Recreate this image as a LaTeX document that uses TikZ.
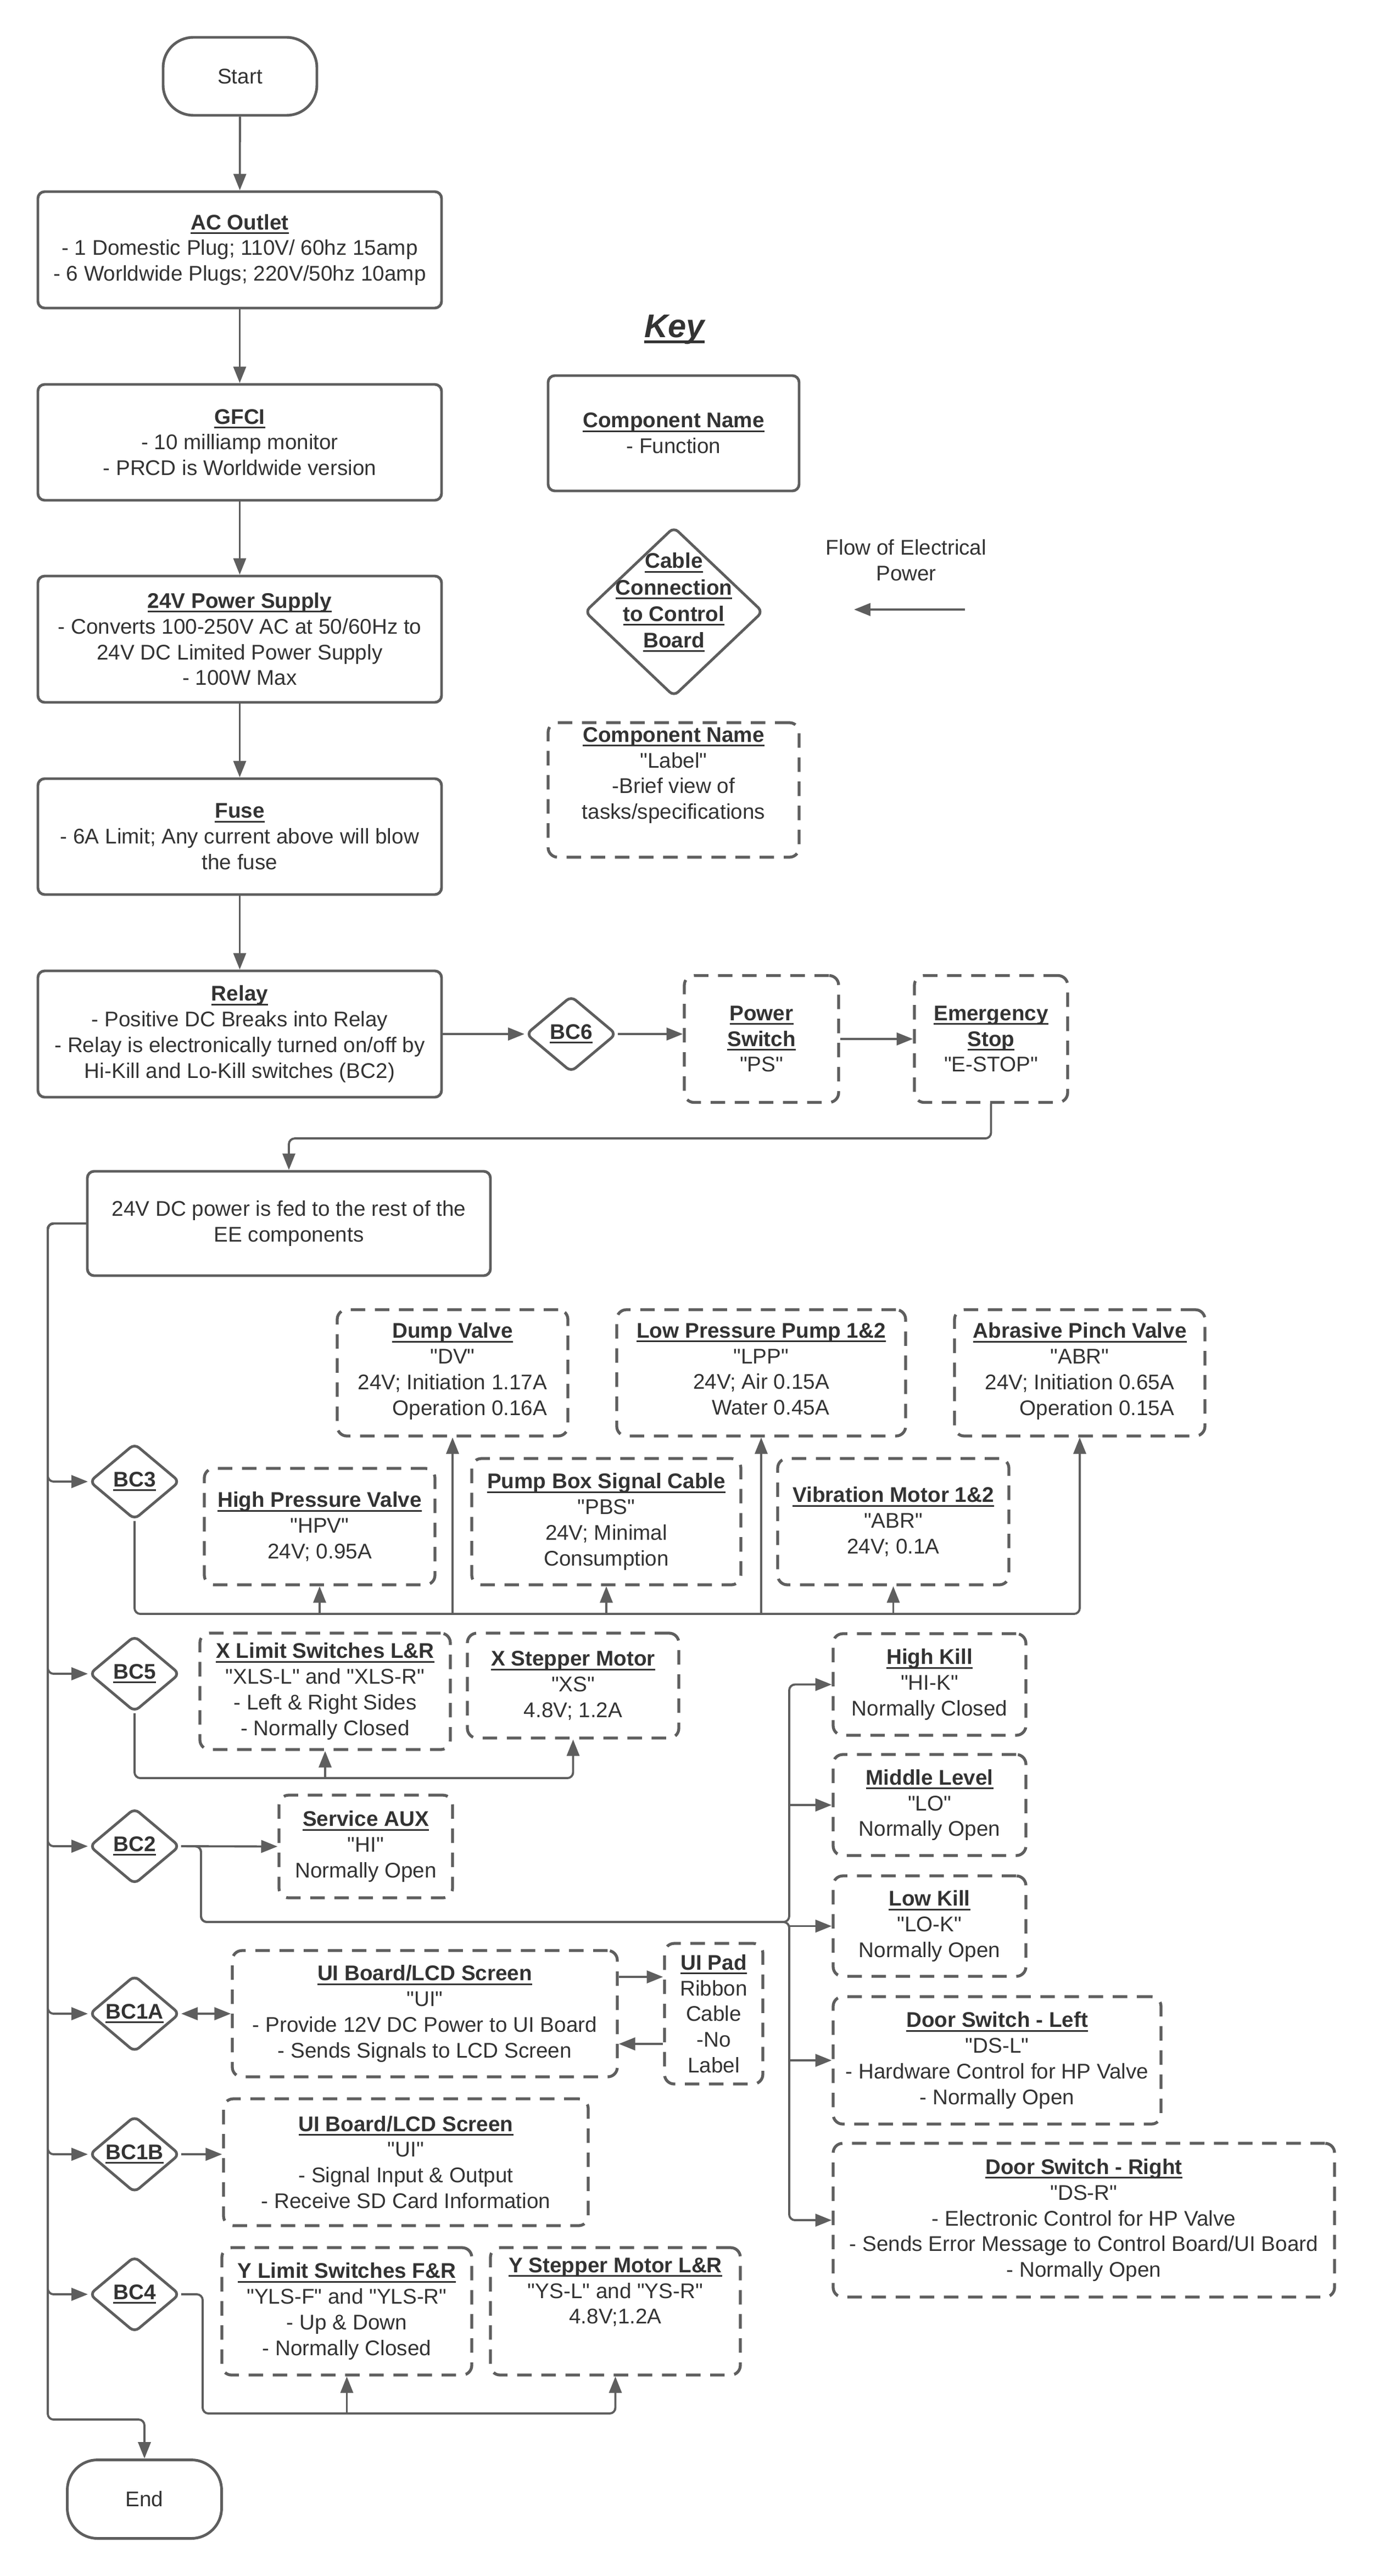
\documentclass[tikz,border=0pt]{standalone}
\usepackage{fontspec}
\setmainfont{Liberation Sans}[Ligatures=TeXOff]
\usetikzlibrary{shapes.geometric,arrows.meta,calc}
\definecolor{lc}{RGB}{94,94,94}
\definecolor{tc}{RGB}{51,51,51}
\newcommand\fsz{\fontsize{11}{13.3}\selectfont}
\newcommand\hdr[1]{\leavevmode\setbox0=\hbox{\bfseries #1}\rlap{\rule[-2.2pt]{\wd0}{0.85pt}}\box0}
\newcommand\rtabx[2]{\begin{tabular}[t]{@{}r@{}}#1\\#2\end{tabular}}
\begin{document}
\begin{tikzpicture}[
  every node/.style={text=tc, font=\fsz},
  sbox/.style={draw=lc, line width=1.4pt, rounded corners=3.5pt, inner sep=0pt, align=center},
  dbox/.style={sbox, dash pattern=on 7.5pt off 5pt, rounded corners=5pt, line width=1.5pt},
  term/.style={sbox, rounded corners=0.55cm},
  bcd/.style={draw=lc, line width=1.4pt, diamond, rounded corners=3pt, inner sep=0pt, minimum width=1.65cm, minimum height=1.39cm},
  sz/.style 2 args={minimum width=#1cm, minimum height=#2cm},
  conn/.style={draw=lc, line width=1.1pt, rounded corners=3pt},
  arr/.style={conn, -{Triangle[length=8.5pt,width=6.5pt]}},
  darr/.style={conn, {Triangle[length=8.5pt,width=6.5pt]}-{Triangle[length=8.5pt,width=6.5pt]}},
]
\fill[white] (0,0) rectangle (25,-46.91);
\useasboundingbox (0,0) rectangle (25,-46.91);

% ---- main column ----
\node[term, sz={2.80}{1.42}] (start) at (4.37,-1.39) {Start};
\node[sbox, sz={7.35}{2.12}] (ac) at (4.365,-4.55) {\hdr{AC Outlet}\\- 1 Domestic Plug; 110V/ 60hz 15amp\\- 6 Worldwide Plugs; 220V/50hz 10amp};
\node[sbox, sz={7.35}{2.11}] (gfci) at (4.365,-8.055) {\hdr{GFCI}\\- 10 milliamp monitor\\- PRCD is Worldwide version};
\node[sbox, sz={7.35}{2.30}] (ps24) at (4.365,-11.64) {\hdr{24V Power Supply}\\- Converts 100-250V AC at 50/60Hz to\\24V DC Limited Power Supply\\- 100W Max};
\node[sbox, sz={7.35}{2.11}] (fuse) at (4.365,-15.235) {\hdr{Fuse}\\- 6A Limit; Any current above will blow\\the fuse};
\node[sbox, sz={7.35}{2.30}] (relay) at (4.365,-18.83) {\hdr{Relay}\\- Positive DC Breaks into Relay\\- Relay is electronically turned on/off by\\Hi-Kill and Lo-Kill switches (BC2)};
\node[bcd] (bc6) at (10.40,-18.83) {\hdr{BC6}};
\node[dbox, sz={2.81}{2.31}] (pswitch) at (13.865,-18.92) {\hdr{Power}\\\hdr{Switch}\\"PS"};
\node[dbox, sz={2.79}{2.31}] (estop) at (18.045,-18.92) {\hdr{Emergency}\\\hdr{Stop}\\"E-STOP"};
\node[sbox, sz={7.34}{1.90}] (dc24) at (5.26,-22.28) {24V DC power is fed to the rest of the\\EE components};

% ---- key ----
\node[font=\fontsize{17}{20}\selectfont] (keytitle) at (12.28,-6.00) {\leavevmode\setbox0=\hbox{\bfseries\itshape Key}\rlap{\rule[-3pt]{\wd0}{1.3pt}}\box0};
\node[sbox, sz={4.57}{2.10}] (key1) at (12.265,-7.89) {\hdr{Component Name}\\- Function};
\node[draw=lc, line width=1.4pt, diamond, rounded corners=3pt, inner sep=0pt, minimum width=3.25cm, minimum height=3.09cm] (keyd) at (12.27,-11.14) {};
\node[align=center, font=\fontsize{11}{13.7}\selectfont] (keydt) at (12.27,-10.97) {\hdr{Cable}\\\hdr{Connection}\\\hdr{to Control}\\\hdr{Board}};
\node[align=center] (flow) at (16.50,-10.20) {Flow of Electrical\\Power};
\coordinate (fa) at (17.57,-11.10);
\coordinate (fb) at (15.55,-11.10);
\draw[arr] (fa) -- (fb);
\node[dbox, sz={4.57}{2.45}] (key2) at (12.265,-14.385) {\hdr{Component Name}\\"Label"\\-Brief view of\\tasks/specifications\\[4pt]};

% ---- BC3 group ----
\node[dbox, sz={4.20}{2.30}] (dv) at (8.24,-25.00) {\hdr{Dump Valve}\\"DV"\\\rtabx{24V; Initiation 1.17A}{Operation 0.16A}};
\node[dbox, sz={5.26}{2.30}] (lpp) at (13.86,-25.00) {\hdr{Low Pressure Pump 1\&2}\\"LPP"\\\rtabx{24V; Air 0.15A}{Water 0.45A}};
\node[dbox, sz={4.56}{2.30}] (abr) at (19.66,-25.00) {\hdr{Abrasive Pinch Valve}\\"ABR"\\\rtabx{24V; Initiation 0.65A}{Operation 0.15A}};
\node[bcd] (bc3) at (2.45,-26.98) {\hdr{BC3}};
\node[dbox, sz={4.20}{2.12}] (hpv) at (5.82,-27.80) {\hdr{High Pressure Valve}\\"HPV"\\24V; 0.95A};
\node[dbox, sz={4.90}{2.30}] (pbs) at (11.04,-27.71) {\hdr{Pump Box Signal Cable}\\"PBS"\\24V; Minimal\\Consumption};
\node[dbox, sz={4.21}{2.30}] (vib) at (16.265,-27.71) {\hdr{Vibration Motor 1\&2}\\"ABR"\\24V; 0.1A};

% ---- BC5 group ----
\node[bcd] (bc5) at (2.45,-30.48) {\hdr{BC5}};
\node[dbox, sz={4.56}{2.12}] (xls) at (5.92,-30.80) {\hdr{X Limit Switches L\&R}\\"XLS-L" and "XLS-R"\\- Left \& Right Sides\\- Normally Closed};
\node[dbox, sz={3.85}{1.91}] (xs) at (10.435,-30.695) {\hdr{X Stepper Motor}\\"XS"\\4.8V; 1.2A};

% ---- right column ----
\node[dbox, sz={3.51}{1.85}] (hk) at (16.925,-30.675) {\hdr{High Kill}\\"HI-K"\\Normally Closed};
\node[dbox, sz={3.51}{1.84}] (ml) at (16.925,-32.87) {\hdr{Middle Level}\\"LO"\\Normally Open};
\node[dbox, sz={3.51}{1.83}] (lk) at (16.925,-35.075) {\hdr{Low Kill}\\"LO-K"\\Normally Open};
\node[dbox, sz={5.97}{2.32}] (dsl) at (18.155,-37.52) {\hdr{Door Switch - Left}\\"DS-L"\\- Hardware Control for HP Valve\\- Normally Open};
\node[dbox, sz={9.13}{2.80}] (dsr) at (19.735,-40.43) {\hdr{Door Switch - Right}\\"DS-R"\\- Electronic Control for HP Valve\\- Sends Error Message to Control Board/UI Board\\- Normally Open};

% ---- BC2 / BC1 / BC4 ----
\node[bcd] (bc2) at (2.45,-33.62) {\hdr{BC2}};
\node[dbox, sz={3.16}{1.87}] (sa) at (6.66,-33.625) {\hdr{Service AUX}\\"HI"\\Normally Open};
\node[bcd] (bc1a) at (2.45,-36.67) {\hdr{BC1A}};
\node[dbox, sz={7.01}{2.30}] (uia) at (7.735,-36.67) {\hdr{UI Board/LCD Screen}\\"UI"\\- Provide 12V DC Power to UI Board\\- Sends Signals to LCD Screen};
\node[dbox, sz={1.79}{2.56}] (pad) at (12.995,-36.67) {\hdr{UI Pad}\\Ribbon\\Cable\\-No\\Label};
\node[bcd] (bc1b) at (2.45,-39.23) {\hdr{BC1B}};
\node[dbox, sz={6.64}{2.31}] (uib) at (7.39,-39.375) {\hdr{UI Board/LCD Screen}\\"UI"\\- Signal Input \& Output\\- Receive SD Card Information};
\node[bcd] (bc4) at (2.45,-41.78) {\hdr{BC4}};
\node[dbox, sz={4.55}{2.32}] (yls) at (6.315,-42.09) {\hdr{Y Limit Switches F\&R}\\"YLS-F" and "YLS-R"\\- Up \& Down\\- Normally Closed};
\node[dbox, sz={4.55}{2.32}] (ysm) at (11.205,-42.09) {\hdr{Y Stepper Motor L\&R}\\"YS-L" and "YS-R"\\4.8V;1.2A\\[8pt]};
\node[term, sz={2.81}{1.43}] (end) at (2.63,-45.51) {End};

% ---- helper coordinates ----
\coordinate (busx) at (0.87,0);
\coordinate (rb) at (14.37,0);
\coordinate (b3) at (0,-29.39);
\coordinate (b5) at (0,-32.38);
\coordinate (b4) at (0,-43.95);
\coordinate (j1) at (3.66,-33.62);
\coordinate (j2) at (14.37,-35.00);
\coordinate (j4) at (3.69,-41.78);

% ---- connectors: main column ----
\draw[arr] (start) -- (ac);
\draw[arr] (ac) -- (gfci);
\draw[arr] (gfci) -- (ps24);
\draw[arr] (ps24) -- (fuse);
\draw[arr] (fuse) -- (relay);
\draw[arr] (relay.east) -- (bc6.west);
\draw[arr] (bc6.east) -- (pswitch.west |- bc6.east);
\draw[arr] (pswitch.east) -- (estop.west);
\draw[arr] (estop.south) -- ++(0,-0.63) -| (dc24.north);

% ---- main bus ----
\draw[arr] (dc24.west) -- (busx |- dc24.west) |- (bc3.west);
\draw[arr] (dc24.west) -- (busx |- dc24.west) |- (bc5.west);
\draw[arr] (dc24.west) -- (busx |- dc24.west) |- (bc2.west);
\draw[arr] (dc24.west) -- (busx |- dc24.west) |- (bc1a.west);
\draw[arr] (dc24.west) -- (busx |- dc24.west) |- (bc1b.west);
\draw[arr] (dc24.west) -- (busx |- dc24.west) |- (bc4.west);
\draw[arr] (dc24.west) -- (busx |- dc24.west) |- ([yshift=0.71cm]end.north) -- (end.north);

% ---- BC3 ----
\draw[arr] (bc3.south) |- (abr.south |- b3) -- (abr.south);
\draw[arr] (hpv.south |- b3) -- (hpv.south);
\draw[arr] (dv.south |- b3) -- (dv.south);
\draw[arr] (pbs.south |- b3) -- (pbs.south);
\draw[arr] (lpp.south |- b3) -- (lpp.south);
\draw[arr] (vib.south |- b3) -- (vib.south);

% ---- BC5 ----
\draw[arr] (bc5.south) |- (xs.south |- b5) -- (xs.south);
\draw[arr] (xls.south |- b5) -- (xls.south);

% ---- BC2 ----
\draw[arr] (bc2.east) -- (sa.west);
\draw[arr] (bc2.east) -- (j1) |- (j2) |- (hk.west);
\draw[arr] (bc2.east) -- (j1) |- (j2) |- (dsr.west);
\draw[arr] (rb |- ml.west) -- (ml.west);
\draw[arr] (rb |- lk.west) -- (lk.west);
\draw[arr] (rb |- dsl.west) -- (dsl.west);

% ---- BC1A / BC1B ----
\draw[darr] (bc1a.east) -- (uia.west);
\draw[arr] ([yshift=0.67cm]uia.east) -- ([yshift=0.67cm]pad.west);
\draw[arr] ([yshift=-0.55cm]pad.west) -- ([yshift=-0.55cm]uia.east);
\draw[arr] (bc1b.east) -- (uib.west |- bc1b.east);

% ---- BC4 ----
\draw[arr] (bc4.east) -- (j4) |- (ysm.south |- b4) -- (ysm.south);
\draw[arr] (yls.south |- b4) -- (yls.south);
\end{tikzpicture}
\end{document}
